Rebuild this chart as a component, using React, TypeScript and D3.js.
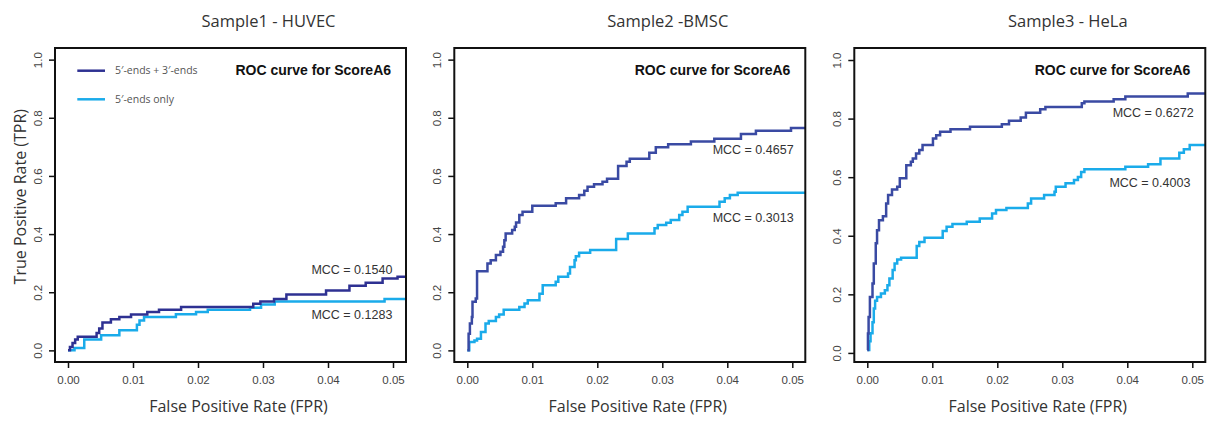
import * as d3 from 'd3';
import { useEffect, useRef } from 'react';

// ROC curves, FPR (x) vs TPR (y)
const huvecBoth = [
  [0, 0], [0.0003, 0.012], [0.0007, 0.025], [0.0011, 0.037], [0.0015, 0.047], [0.0044, 0.06],
  [0.0048, 0.075], [0.0053, 0.096], [0.0066, 0.107], [0.0079, 0.115], [0.0097, 0.123],
  [0.0122, 0.132], [0.014, 0.14], [0.0174, 0.149], [0.0285, 0.16], [0.0296, 0.168],
  [0.0317, 0.177], [0.0336, 0.192], [0.0397, 0.206], [0.0433, 0.222], [0.0458, 0.233],
  [0.0484, 0.247], [0.0507, 0.253]
];
const huvecFive = [
  [0, 0], [0.001, 0.008], [0.0025, 0.037], [0.0051, 0.052], [0.0079, 0.069], [0.0106, 0.088],
  [0.011, 0.103], [0.0117, 0.115], [0.0166, 0.124], [0.0197, 0.132], [0.0215, 0.14],
  [0.028, 0.147], [0.0297, 0.158], [0.0318, 0.168], [0.0487, 0.177]
];
const bmscBoth = [
  [0, 0], [0.0002, 0.057], [0.0004, 0.092], [0.0007, 0.115], [0.0008, 0.167], [0.0013, 0.178],
  [0.0015, 0.272], [0.0031, 0.299], [0.0036, 0.31], [0.0044, 0.328], [0.0051, 0.339],
  [0.0055, 0.356], [0.0057, 0.379], [0.0059, 0.402], [0.0069, 0.414], [0.0073, 0.425],
  [0.0075, 0.44], [0.008, 0.466], [0.0085, 0.477], [0.01, 0.497], [0.0136, 0.506],
  [0.0152, 0.523], [0.0172, 0.534], [0.018, 0.549], [0.0185, 0.563], [0.0195, 0.571],
  [0.0208, 0.58], [0.0215, 0.59], [0.0232, 0.634], [0.0245, 0.649], [0.025, 0.659],
  [0.028, 0.68], [0.029, 0.699], [0.0309, 0.709], [0.0344, 0.718], [0.038, 0.728],
  [0.0421, 0.744], [0.0444, 0.755], [0.0498, 0.765]
];
const bmscFive = [
  [0, 0], [0.0003, 0.029], [0.0011, 0.034], [0.0015, 0.04], [0.0021, 0.063], [0.0028, 0.092],
  [0.0033, 0.101], [0.0044, 0.115], [0.0049, 0.123], [0.0056, 0.14], [0.008, 0.149],
  [0.0088, 0.161], [0.0093, 0.172], [0.0111, 0.195], [0.0116, 0.224], [0.0136, 0.236],
  [0.014, 0.253], [0.0155, 0.264], [0.0158, 0.287], [0.0165, 0.31], [0.0167, 0.324],
  [0.0172, 0.336], [0.0189, 0.345], [0.0229, 0.383], [0.0247, 0.402], [0.0288, 0.42],
  [0.0293, 0.431], [0.0306, 0.439], [0.0313, 0.448], [0.0326, 0.466], [0.0331, 0.477],
  [0.0339, 0.494], [0.0388, 0.511], [0.0396, 0.523], [0.0404, 0.534], [0.0416, 0.542]
];
const helaBoth = [
  [0, 0.01], [0.0001, 0.066], [0.0002, 0.123], [0.0004, 0.191], [0.0008, 0.237], [0.001, 0.305],
  [0.0013, 0.374], [0.0015, 0.419], [0.0018, 0.453], [0.0024, 0.467], [0.0029, 0.51],
  [0.0032, 0.539], [0.0038, 0.558], [0.0046, 0.567], [0.005, 0.596], [0.006, 0.641],
  [0.0067, 0.653], [0.007, 0.664], [0.0075, 0.681], [0.008, 0.693], [0.0085, 0.71],
  [0.0101, 0.732], [0.0106, 0.743], [0.0112, 0.755], [0.0128, 0.764], [0.0158, 0.772],
  [0.0207, 0.781], [0.0218, 0.793], [0.0236, 0.804], [0.0244, 0.82], [0.0266, 0.832],
  [0.0274, 0.84], [0.033, 0.852], [0.0334, 0.858], [0.0379, 0.866], [0.0397, 0.875],
  [0.0493, 0.886]
];
const helaFive = [
  [0, 0.01], [0.0003, 0.04], [0.0005, 0.067], [0.0008, 0.105], [0.001, 0.152], [0.0012, 0.178],
  [0.0015, 0.191], [0.0021, 0.203], [0.0027, 0.214], [0.0031, 0.231], [0.0034, 0.254],
  [0.0039, 0.283], [0.0042, 0.305], [0.0046, 0.319], [0.0052, 0.325], [0.0076, 0.365],
  [0.008, 0.379], [0.0088, 0.393], [0.0116, 0.416], [0.0122, 0.431], [0.0131, 0.44],
  [0.0153, 0.448], [0.0173, 0.459], [0.0192, 0.476], [0.0198, 0.488], [0.0214, 0.495],
  [0.0247, 0.51], [0.0252, 0.527], [0.0272, 0.539], [0.0288, 0.55], [0.029, 0.567],
  [0.0305, 0.579], [0.0318, 0.59], [0.0324, 0.601], [0.0329, 0.618], [0.0334, 0.627],
  [0.0397, 0.636], [0.0432, 0.644], [0.0451, 0.664], [0.048, 0.683], [0.0487, 0.695],
  [0.0496, 0.71]
];

const panelTitles = ['Sample1 - HUVEC', 'Sample2 -BMSC', 'Sample3 - HeLa'];
const seriesNames = ['5′-ends + 3′-ends', '5′-ends only'];
const bothCurves = [huvecBoth, bmscBoth, helaBoth];
const fiveCurves = [huvecFive, bmscFive, helaFive];
const mccBoth = ['0.1540', '0.4657', '0.6272'];
const mccFive = ['0.1283', '0.3013', '0.4003'];
// where each MCC label ends (fpr, tpr of baseline)
const mccBothAt = [[0.0499, 0.261], [0.0502, 0.675], [0.0502, 0.804]];
const mccFiveAt = [[0.0499, 0.108], [0.0502, 0.441], [0.0497, 0.567]];
const xTicks = [0, 0.01, 0.02, 0.03, 0.04, 0.05];
const yTicks = [0, 0.2, 0.4, 0.6, 0.8, 1.0];
const xDomain = [-0.002, 0.052];
const yDomains = [[-0.04, 1.04], [-0.04, 1.04], [-0.031, 1.041]];

export default function App() {
  const ref = useRef<SVGSVGElement>(null);

  useEffect(() => {
    const svg = d3.select(ref.current);
    svg.selectAll('*').remove();

    const top = 48;
    const bottom = 362;
    const boxWidth = 351;
    const lefts = [55, 454.3, 854.3];
    const darkColors = ['#2e3192', '#3a4aa3', '#3a4aa3'];
    const lightColor = '#1aabea';
    const labelFont = '"Open Sans", sans-serif';
    const numFont = '"Liberation Sans", Arial, sans-serif';

    panelTitles.forEach((title, i) => {
      const left = lefts[i];
      const x = d3.scaleLinear().domain(xDomain).range([left, left + boxWidth]);
      const y = d3.scaleLinear().domain(yDomains[i]).range([bottom, top]);
      const g = svg.append('g');

      g.append('clipPath')
        .attr('id', `clip${i}`)
        .append('rect')
        .attr('x', left)
        .attr('y', top)
        .attr('width', boxWidth)
        .attr('height', bottom - top);

      // axes
      const xAxis = g.append('g')
        .attr('transform', `translate(0,${bottom})`)
        .call(d3.axisBottom(x).tickValues(xTicks).tickFormat(d3.format('.2f')).tickSize(6).tickPadding(8));
      const yAxis = g.append('g')
        .attr('transform', `translate(${left},0)`)
        .call(d3.axisLeft(y).tickValues(yTicks).tickFormat(d3.format('.1f')).tickSize(6));
      [xAxis, yAxis].forEach(ax => {
        ax.select('.domain').remove();
        ax.selectAll('line').attr('stroke', '#111').attr('stroke-width', 1.5);
        ax.selectAll('text')
          .attr('font-family', numFont)
          .attr('font-size', 11.5)
          .attr('fill', '#444');
      });
      yAxis.selectAll('text')
        .attr('transform', 'rotate(-90)')
        .attr('x', 0)
        .attr('y', -13)
        .attr('dy', 0)
        .attr('text-anchor', 'middle');

      const line = d3.line<number[]>()
        .x(d => x(d[0]))
        .y(d => y(d[1]))
        .curve(d3.curveStepAfter);

      const extend = (pts: number[][]) => [...pts, [xDomain[1], pts[pts.length - 1][1]]];

      g.append('path')
        .attr('d', line(extend(fiveCurves[i])))
        .attr('fill', 'none')
        .attr('stroke', lightColor)
        .attr('stroke-width', 2.5)
        .attr('clip-path', `url(#clip${i})`);
      g.append('path')
        .attr('d', line(extend(bothCurves[i])))
        .attr('fill', 'none')
        .attr('stroke', darkColors[i])
        .attr('stroke-width', 2.5)
        .attr('clip-path', `url(#clip${i})`);

      g.append('rect')
        .attr('x', left)
        .attr('y', top)
        .attr('width', boxWidth)
        .attr('height', bottom - top)
        .attr('fill', 'none')
        .attr('stroke', '#111')
        .attr('stroke-width', 2);

      g.append('text')
        .attr('x', left + boxWidth / 2 + 38)
        .attr('y', 26.7)
        .attr('text-anchor', 'middle')
        .attr('font-family', labelFont)
        .attr('font-size', 16.5)
        .attr('fill', '#333')
        .text(title);

      g.append('text')
        .attr('x', x(0.0497))
        .attr('y', 75)
        .attr('text-anchor', 'end')
        .attr('font-family', numFont)
        .attr('font-weight', 700)
        .attr('font-size', 14)
        .attr('fill', '#111')
        .text('ROC curve for ScoreA6');

      [[mccBoth[i], mccBothAt[i]], [mccFive[i], mccFiveAt[i]]].forEach(([val, at]) => {
        g.append('text')
          .attr('x', x((at as number[])[0]))
          .attr('y', y((at as number[])[1]))
          .attr('text-anchor', 'end')
          .attr('font-family', numFont)
          .attr('font-size', 12.5)
          .attr('fill', '#333')
          .text(`MCC = ${val}`);
      });

      g.append('text')
        .attr('x', left + boxWidth / 2 + 8)
        .attr('y', 412)
        .attr('text-anchor', 'middle')
        .attr('font-family', labelFont)
        .attr('font-size', 16)
        .attr('fill', '#333')
        .text('False Positive Rate (FPR)');

      if (i === 0) {
        g.append('text')
          .attr('transform', 'translate(26,196.7) rotate(-90)')
          .attr('text-anchor', 'middle')
          .attr('font-family', labelFont)
          .attr('font-size', 16)
          .attr('fill', '#333')
          .text('True Positive Rate (TPR)');

        const legendColors = [darkColors[0], lightColor];
        seriesNames.forEach((name, k) => {
          const ly = [70.7, 99.3][k];
          g.append('line')
            .attr('x1', left + 22.3)
            .attr('x2', left + 50)
            .attr('y1', ly)
            .attr('y2', ly)
            .attr('stroke', legendColors[k])
            .attr('stroke-width', 2.5);
          g.append('text')
            .attr('x', left + 60)
            .attr('y', ly + 3.6)
            .attr('font-family', labelFont)
            .attr('font-size', 10.5)
            .attr('fill', '#555')
            .text(name);
        });
      }
    });
  }, []);

  return (
    <svg
      ref={ref}
      width={1214}
      height={421}
      style={{ position: 'absolute', left: 0, top: 0, background: '#fff' }}
    />
  );
}
